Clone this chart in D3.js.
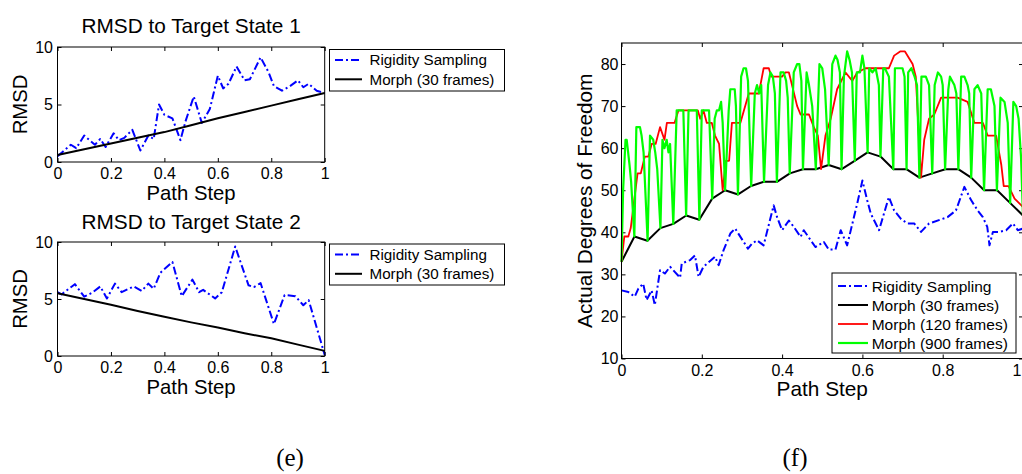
<!DOCTYPE html>
<html>
<head>
<meta charset="utf-8">
<script src="https://cdn.jsdelivr.net/npm/d3@7"></script>
<style>
  body { margin: 0; background: #fff; }
  svg text { font-family: "Liberation Sans", Arial, Helvetica, sans-serif; fill: #000; }
</style>
</head>
<body>
<svg id="fig" width="1022" height="474"></svg>
<script>
// ---------- (e) RMSD to target state 1 ----------
const s1Step = [0,0.02,0.05,0.07,0.10,0.12,0.14,0.16,0.18,0.21,0.23,0.25,0.28,0.31,0.34,0.36,0.38,0.40,0.43,0.46,0.48,0.51,0.54,0.57,0.60,0.62,0.64,0.67,0.70,0.72,0.76,0.79,0.81,0.84,0.87,0.90,0.92,0.94,0.97,1.00];
const s1Rigidity = [0.5,0.9,1.5,1.2,2.3,1.9,1.5,2.0,1.3,2.5,1.9,2.1,2.8,1.0,2.3,2.0,5.0,4.1,3.8,1.9,3.6,5.7,3.4,4.6,7.5,6.4,6.8,8.3,7.1,7.2,9.1,7.8,6.6,6.2,6.6,7.1,6.5,6.8,6.2,6.0];
const s1MorphStep = [0,0.1,0.2,0.3,0.4,0.5,0.6,0.7,0.8,0.9,1.0];
const s1Morph = [0.6,1.1,1.6,2.1,2.6,3.2,3.8,4.35,4.9,5.45,6.0];

// ---------- (e) RMSD to target state 2 ----------
const s2Step = [0,0.015,0.065,0.10,0.13,0.16,0.185,0.215,0.24,0.285,0.315,0.34,0.36,0.385,0.43,0.465,0.505,0.53,0.545,0.59,0.615,0.665,0.715,0.735,0.76,0.81,0.85,0.89,0.92,0.94,1.0];
const s2Rigidity = [5.6,5.4,6.3,5.2,5.55,6.1,5.05,6.35,5.6,6.1,5.7,6.35,5.9,7.3,8.25,5.25,6.7,5.6,5.8,5.05,5.6,9.6,6.2,6.05,6.4,2.8,5.35,5.25,4.45,4.9,0.1];
const s2MorphStep = [0,0.1,0.2,0.3,0.4,0.5,0.6,0.7,0.8,0.9,1.0];
const s2Morph = [5.5,5.0,4.5,3.95,3.45,2.95,2.5,2.0,1.55,1.0,0.45];

// ---------- (f) actual degrees of freedom ----------
const dofRigidityStep = [0,0.017,0.033,0.042,0.054,0.0625,0.075,0.083,0.096,0.108,0.121,0.146,0.15,0.171,0.183,0.192,0.204,0.233,0.242,0.254,0.271,0.283,0.315,0.325,0.3375,0.354,0.379,0.3875,0.40,0.417,0.429,0.446,0.454,0.483,0.504,0.516,0.533,0.546,0.562,0.587,0.60,0.612,0.621,0.6415,0.666,0.679,0.696,0.712,0.729,0.746,0.766,0.812,0.833,0.854,0.871,0.887,0.90,0.911,0.9165,0.925,0.941,0.958,0.975,0.987,1.0];
const dofRigidity = [26.2,25.8,24.7,26.6,27.8,23.9,26.2,22.7,31.0,30.2,31.8,29.2,32.6,33.4,34.5,29.4,31.8,34.2,32.2,35.7,39.7,40.9,36.1,37.3,38.1,36.9,46.4,43.6,40.5,42.8,41.3,38.9,40.5,36.5,37.7,35.9,35.9,40.5,36.9,46.8,52.3,47.6,44.4,40.5,48.4,45.2,43.2,42.1,42.1,40.1,42.1,43.6,45.2,50.8,47.6,45.2,43.6,41.3,36.9,40.1,40.1,40.5,42.1,40.5,40.9];

// Morph with 30 frames: 32 evenly spaced states along the path
const dofMorph30 = [33,39,38,41,42,44,43,48,50,49,51,52,52,54,55,55,56,55,57,59,58,55,55,53,54,55,55,53,50,50,47,44];

const dofMorph120Step = [0,0.007,0.017,0.023,0.04,0.048,0.058,0.067,0.075,0.085,0.096,0.107,0.113,0.132,0.142,0.19,0.196,0.204,0.2125,0.225,0.233,0.243,0.252,0.26,0.268,0.275,0.296,0.317,0.342,0.354,0.367,0.373,0.40,0.408,0.417,0.4375,0.446,0.467,0.479,0.489,0.497,0.508,0.521,0.537,0.558,0.575,0.587,0.608,0.666,0.679,0.694,0.706,0.725,0.733,0.746,0.754,0.766,0.779,0.796,0.837,0.862,0.879,0.90,0.912,0.933,0.946,0.952,0.964,0.979,1.0];
const dofMorph120 = [33,39,39,41,54,54,58,58,61,61,65,62,66,66,69,69,67,69,66,66,63,61,50,57,57,66,66,73,73,79,79,77,77,78,78,70,68,68,65,63,55,63,67,74,78,76,78,79,79,82,83,83,80,77,53,62,67,68,72,72,71,66,66,63,63,56,51,51,48,46];

const dofMorph900Step = [0,0.004,0.01,0.013,0.02,0.024,0.032,0.037,0.046,0.05,0.055,0.065,0.071,0.079,0.084,0.089,0.097,0.102,0.107,0.1125,0.117,0.121,0.129,0.1375,0.154,0.161,0.167,0.1875,0.194,0.2,0.218,0.226,0.232,0.2375,0.243,0.248,0.252,0.258,0.267,0.271,0.282,0.285,0.290,0.298,0.304,0.31,0.315,0.323,0.332,0.3375,0.343,0.348,0.355,0.365,0.371,0.377,0.382,0.387,0.396,0.404,0.41,0.414,0.419,0.429,0.4375,0.443,0.448,0.452,0.461,0.467,0.475,0.484,0.493,0.5,0.507,0.516,0.525,0.533,0.538,0.544,0.548,0.554,0.562,0.568,0.574,0.581,0.586,0.594,0.6,0.605,0.613,0.617,0.625,0.633,0.641,0.645,0.652,0.656,0.666,0.677,0.681,0.69,0.7,0.705,0.710,0.714,0.722,0.73,0.736,0.742,0.747,0.758,0.766,0.774,0.78,0.788,0.796,0.8,0.806,0.814,0.818,0.829,0.834,0.839,0.846,0.854,0.862,0.866,0.871,0.879,0.887,0.896,0.903,0.912,0.92,0.929,0.935,0.944,0.954,0.962,0.968,0.976,0.983,0.989,0.995,1.0];
const dofMorph900 = [33,50,62,62,56,52,39,65,65,63,59,38,63,62,59,55,41,62,60,62,59,61,42,69,69,44,69,69,43,69,69,48,67,69,69,71,66,50,69,74,74,70,49,77,79,79,76,51,73,75,73,75,52,75,78,77,73,52,78,78,76,72,54,78,80,80,76,55,78,75,70,55,80,79,74,56,80,82,81,78,55,77,83,81,78,57,78,78,82,79,59,79,78,79,75,58,79,79,77,55,79,79,79,77,55,78,79,77,75,53,77,77,75,54,75,78,77,75,55,74,77,75,73,55,77,77,75,73,53,74,75,73,50,74,74,70,50,72,71,66,47,71,70,67,58,44];

// ---------- ticks & labels ----------
const rmsdXTicks = [0, 0.2, 0.4, 0.6, 0.8, 1];
const rmsdYTicks = [0, 5, 10];
const dofXTicks = [0, 0.2, 0.4, 0.6, 0.8, 1];
const dofYTicks = [10, 20, 30, 40, 50, 60, 70, 80];
const legendRmsd = ["Rigidity Sampling", "Morph (30 frames)"];
const legendDof = ["Rigidity Sampling", "Morph (30 frames)", "Morph (120 frames)", "Morph (900 frames)"];

const BLUE = "#0000ff", BLACK = "#000000", RED = "#ff0000", GREEN = "#00ff00";
const DASHDOT = "8,3,2,3";

const svg = d3.select("#fig");

function panel(o) {
  const g = svg.append("g");
  const x = d3.scaleLinear().domain(o.xDomain).range([o.left, o.right]);
  const y = d3.scaleLinear().domain(o.yDomain).range([o.bottom, o.top]);
  const fmt = d => String(d);
  const tick = 4;

  const style = sel => {
    sel.select(".domain").remove();
    sel.attr("font-size", o.tickFont).attr("font-family", null);
    sel.selectAll(".tick line").attr("stroke", "#000").attr("stroke-width", 1);
  };

  const bottomAxis = g.append("g").attr("transform", `translate(0,${o.bottom})`)
    .call(d3.axisBottom(x).tickValues(o.xTicks).tickFormat(fmt).tickSizeInner(-tick).tickSizeOuter(0).tickPadding(6))
    .call(style);
  // keep a label that sits on the clipped right edge inside the page
  if (o.edgeLabelMax != null) {
    bottomAxis.selectAll(".tick text").each(function () {
      const t = d3.select(this);
      const bb = this.getBBox();
      const tx = x(d3.select(this.parentNode).datum());
      if (tx + bb.width / 2 > o.edgeLabelMax) t.attr("text-anchor", "end").attr("x", o.edgeLabelMax - tx);
    });
  }
  g.append("g").attr("transform", `translate(0,${o.top})`)
    .call(d3.axisTop(x).tickValues(o.xTicks).tickFormat("").tickSizeInner(-tick).tickSizeOuter(0))
    .call(style);
  g.append("g").attr("transform", `translate(${o.left},0)`)
    .call(d3.axisLeft(y).tickValues(o.yTicks).tickFormat(fmt).tickSizeInner(-tick).tickSizeOuter(0).tickPadding(o.yPad))
    .call(style);
  g.append("g").attr("transform", `translate(${o.right},0)`)
    .call(d3.axisRight(y).tickValues(o.yTicks).tickFormat("").tickSizeInner(-tick).tickSizeOuter(0))
    .call(style);

  // series
  const line = d3.line().x(d => x(d[0])).y(d => y(d[1]));
  o.series.forEach(s => {
    g.append("path")
      .datum(d3.zip(s.x, s.y))
      .attr("d", line)
      .attr("fill", "none")
      .attr("stroke", s.color)
      .attr("stroke-width", s.width)
      .attr("stroke-dasharray", s.dash || null)
      .attr("stroke-linejoin", "round");
  });

  // axes box
  g.append("rect")
    .attr("x", o.left).attr("y", o.top)
    .attr("width", o.right - o.left).attr("height", o.bottom - o.top)
    .attr("fill", "none").attr("stroke", "#000").attr("stroke-width", 1);

  if (o.title) {
    g.append("text").attr("x", (o.left + o.right) / 2).attr("y", o.titleY)
      .attr("text-anchor", "middle").attr("font-size", o.titleFont).text(o.title);
  }
  g.append("text").attr("x", (o.left + o.right) / 2).attr("y", o.xLabelY)
    .attr("text-anchor", "middle").attr("font-size", o.labelFont).text(o.xLabel);
  g.append("text")
    .attr("transform", `translate(${o.yLabelX},${(o.top + o.bottom) / 2}) rotate(-90)`)
    .attr("text-anchor", "middle").attr("font-size", o.labelFont).text(o.yLabel);

  // legend
  const L = o.legend;
  const lg = g.append("g");
  lg.append("rect").attr("x", L.x).attr("y", L.y).attr("width", L.w).attr("height", L.h)
    .attr("fill", "#fff").attr("stroke", "#000").attr("stroke-width", 1);
  L.labels.forEach((lab, i) => {
    const s = o.series[i];
    const cy = L.y + L.first + i * L.step;
    lg.append("line").attr("x1", L.lineX0).attr("x2", L.lineX1).attr("y1", cy).attr("y2", cy)
      .attr("stroke", s.color).attr("stroke-width", s.width).attr("stroke-dasharray", s.dash || null);
    lg.append("text").attr("x", L.textX).attr("y", cy).attr("dy", "0.36em")
      .attr("font-size", L.font).text(lab);
  });
}

const rmsdCommon = {
  left: 57.5, right: 324.7, xDomain: [0, 1], yDomain: [0, 10],
  xTicks: rmsdXTicks, yTicks: rmsdYTicks, tickFont: 16, yPad: 4.5,
  titleFont: 20.8, labelFont: 20.3, xLabel: "Path Step", yLabel: "RMSD", yLabelX: 26.5
};

panel(Object.assign({}, rmsdCommon, {
  top: 47, bottom: 162, title: "RMSD to Target State 1", titleY: 33, xLabelY: 200,
  series: [
    { x: s1Step, y: s1Rigidity, color: BLUE, width: 2, dash: DASHDOT },
    { x: s1MorphStep, y: s1Morph, color: BLACK, width: 2 }
  ],
  legend: { x: 329.5, y: 49.5, w: 175, h: 41.5, first: 10.5, step: 19.3, lineX0: 335, lineX1: 362, textX: 369.5, font: 15.2, labels: legendRmsd }
}));

panel(Object.assign({}, rmsdCommon, {
  top: 242, bottom: 356, title: "RMSD to Target State 2", titleY: 229, xLabelY: 393.5,
  series: [
    { x: s2Step, y: s2Rigidity, color: BLUE, width: 2, dash: DASHDOT },
    { x: s2MorphStep, y: s2Morph, color: BLACK, width: 2 }
  ],
  legend: { x: 329.5, y: 244, w: 175, h: 41, first: 10.5, step: 19.3, lineX0: 335, lineX1: 362, textX: 369.5, font: 15.2, labels: legendRmsd }
}));

const morph30Step = d3.range(dofMorph30.length).map(i => i / (dofMorph30.length - 1));

panel({
  left: 621.5, right: 1023, top: 43, bottom: 358.5, xDomain: [0, 1], yDomain: [10, 85],
  xTicks: dofXTicks, yTicks: dofYTicks, tickFont: 16, yPad: 3, edgeLabelMax: 1021,
  labelFont: 20.8, xLabel: "Path Step", yLabel: "Actual Degrees of Freedom", yLabelX: 591.5, xLabelY: 396,
  series: [
    { x: dofRigidityStep, y: dofRigidity, color: BLUE, width: 2, dash: DASHDOT },
    { x: morph30Step, y: dofMorph30, color: BLACK, width: 2 },
    { x: dofMorph120Step, y: dofMorph120, color: RED, width: 1.8 },
    { x: dofMorph900Step, y: dofMorph900, color: GREEN, width: 2.2 }
  ],
  legend: { x: 832, y: 273, w: 184, h: 80, first: 13, step: 19, lineX0: 838, lineX1: 868, textX: 871.7, font: 15.5, labels: legendDof }
});

// sub-figure captions
svg.append("text").attr("x", 290).attr("y", 466).attr("text-anchor", "middle")
  .style("font-family", "'Liberation Serif', 'DejaVu Serif', serif").attr("font-size", 25).text("(e)");
svg.append("text").attr("x", 795).attr("y", 466).attr("text-anchor", "middle")
  .style("font-family", "'Liberation Serif', 'DejaVu Serif', serif").attr("font-size", 25).text("(f)");
</script>
</body>
</html>
